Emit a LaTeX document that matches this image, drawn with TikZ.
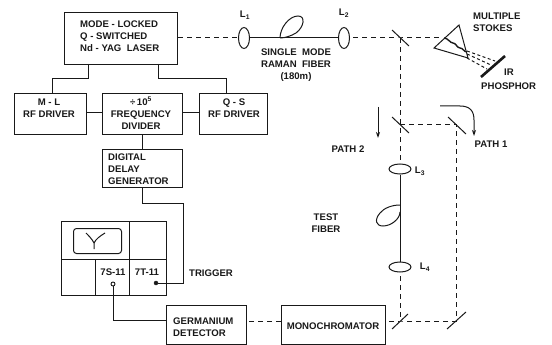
\documentclass[tikz,border=0pt]{standalone}
\usepackage{fontspec}
\setmainfont{Liberation Sans}
\usetikzlibrary{arrows.meta,shapes.geometric}
\tikzset{
  x=1pt,y=-1pt,
  line/.style={line width=1pt,black!90},
  beam/.style={line width=1pt,black!90,dash pattern=on 5pt off 4pt},
  mirror/.style={line width=1pt,black!90},
  lens/.style={draw=black!90,line width=1pt,ellipse,inner sep=0pt,fill=white},
  box/.style={draw=black!90,line width=1pt,inner sep=0pt,anchor=north west},
  lab/.style={font=\fontsize{9.6}{12}\selectfont\bfseries,text=black!90,inner sep=0pt,align=center},
  labl/.style={lab,align=left},
  dotted node/.style={circle,draw=black!90,line width=0.9pt,inner sep=0pt,minimum size=4pt},
}
\begin{document}
\begin{tikzpicture}
\useasboundingbox (0,0) rectangle (552,345);
% boxes
\node[box,minimum width=113pt,minimum height=52pt] (laser) at (64,12) {};
\node[box,minimum width=72pt,minimum height=41pt] (ml) at (14,93) {};
\node[box,minimum width=80pt,minimum height=41pt] (div) at (102,93) {};
\node[box,minimum width=68pt,minimum height=41pt] (qs) at (199,93) {};
\node[box,minimum width=80pt,minimum height=38pt] (delay) at (102,149) {};
\node[box,minimum width=105pt,minimum height=74pt] (scope) at (61,221) {};
\node[box,minimum width=80pt,minimum height=39pt] (ge) at (166,305) {};
\node[box,minimum width=104pt,minimum height=39pt] (mono) at (281,305) {};
\node[draw=black!90,line width=1pt,rounded corners=3pt,inner sep=0pt,minimum width=48pt,minimum height=25pt,anchor=north west] (screen) at (73,228) {};
% scope partitions and trace
\draw[line] (61,259) -- (166,259);
\draw[line] (129,221) -- (129,295);
\draw[line] (95,259) -- (95,295);
\draw[line] (86,233) .. controls (89,236) and (92,239) .. (94,243) -- (94,249);
\draw[line] (105,233) .. controls (100,236) and (96,239) .. (94,243);
% labels in boxes
\node[labl,anchor=west] at (80,36.5) {MODE - LOCKED\\Q - SWITCHED\\Nd - YAG\ \ LASER};
\node[lab] at (49,108.5) {M - L\\RF DRIVER};
\node[lab] at (141,113) {÷\,10$^{\mathbf{5}}$\\FREQUENCY\\DIVIDER};
\node[lab] at (234,108.5) {Q - S\\RF DRIVER};
\node[labl,anchor=west] at (108,169) {DIGITAL\\DELAY\\GENERATOR};
\node[labl,anchor=west] at (173,327) {GERMANIUM\\DETECTOR};
\node[lab] at (333,326) {MONOCHROMATOR};
\node[lab] (t75) at (113,272) {7S-11};
\node[lab] (t7t) at (147,272) {7T-11};
\node[lab] (trig) at (211,273) {TRIGGER};
% electrical connections
\coordinate (lm) at (88,64); \coordinate (lq) at (158,64);
\coordinate (mt) at (52,93); \coordinate (qt) at (226,93);
\draw[line] (lm) -- (88,79) -- (52,79) -- (mt);
\draw[line] (lq) -- (158,79) -- (226,79) -- (qt);
\draw[line] (ml.east |- 0,113) -- (div.west |- 0,113);
\draw[line] (div.east |- 0,113) -- (qs.west |- 0,113);
\draw[line] (142,134) -- (142,149);
\node[circle,fill=black!90,draw=black!90,inner sep=0pt,minimum size=4pt] (trd) at (156,283) {};
\node[dotted node,fill=white] (sd) at (113,284) {};
\coordinate (dd) at (142,187); \coordinate (gd) at (166,320);
\draw[line] (dd) -- (142,203) -- (183,203) -- (183,283) -- (trd);
\draw[line] (sd) -- (113,320) -- (gd);
% optical
\coordinate (m1) at (400,38); \coordinate (m2) at (400,124); \coordinate (m3) at (456,124);
\coordinate (m4) at (456,321); \coordinate (m5) at (400,321);
\coordinate (pin) at (442,38);
\coordinate (c1) at (244,38); \coordinate (c2) at (344,38);
\coordinate (c3) at (400,169); \coordinate (c4) at (400,267);
\draw[beam] (laser.east |- 0,38) -- (c1);
\draw[beam] (c2) -- (m1) -- (pin);
\draw[beam] (m1) -- (m2) -- (c3);
\draw[beam] (m2) -- (m3) -- (m4) -- (m5) -- (mono.east |- m5);
\draw[beam] (c4) -- (m5);
\draw[beam] (mono.west |- 0,321) -- (ge.east |- 0,321);
\node[lens,minimum width=11pt,minimum height=21pt] (L1) at (c1) {};
\node[lens,minimum width=11pt,minimum height=21pt] (L2) at (c2) {};
\node[lens,minimum width=22pt,minimum height=10pt] (L3) at (c3) {};
\node[lens,minimum width=22pt,minimum height=10pt] (L4) at (c4) {};
% fibers
\draw[line] (L1.east) -- (L2.west);
\draw[line] (280,38) .. controls (280,28) and (289,16) .. (298,16) .. controls (306,16) and (304,27) .. (296,33) .. controls (291,36) and (285,38) .. (280,38);
\draw[line] (L3.south) -- (L4.north);
\draw[line] (400,205) .. controls (392,205) and (384,208) .. (380,213) .. controls (374,220) and (376,226) .. (383,226) .. controls (391,226) and (400,219) .. (400,212);
% mirrors
\draw[mirror] (392,30) -- (409,46);
\draw[mirror] (392,117) -- (409,133);
\draw[mirror] (448,117) -- (466,134);
\draw[mirror] (392,329) -- (408,314);
\draw[mirror] (447,329) -- (466,312);
% prism
\draw[line] (459,25) -- (434,48) -- (468,58) -- cycle;
\draw[line,line width=1.4pt] (444,38) .. controls (448,38) and (450,43) .. (453,43) .. controls (456,43) and (457,48) .. (460,48) .. controls (463,48) and (464,52) .. (467,52);
\draw[line,line width=2.6pt] (481,77) -- (505,56);
\draw[line,dash pattern=on 3pt off 2.5pt] (467,51) -- (495,61);
\draw[line,dash pattern=on 3pt off 2.5pt] (467,54) -- (491,65);
\draw[line,dash pattern=on 3pt off 2.5pt] (467,58) -- (487,69);
% path arrows
\draw[line,-{Stealth[length=6pt,width=4pt]}] (378,107) -- (378,138);
\draw[line,-{Stealth[length=6pt,width=4pt]}] (440,106) -- (460,106) .. controls (470,106) and (474,111) .. (474,120) -- (474,136);
% labels
\node[lab] at (245,15) {L$_{\mathbf 1}$};
\node[lab] at (344,13) {L$_{\mathbf 2}$};
\node[lab] at (420,171) {L$_{\mathbf 3}$};
\node[lab] at (425,267) {L$_{\mathbf 4}$};
\node[lab] at (296,65) {SINGLE\ \ MODE\\RAMAN\ \ FIBER\\(180m)};
\node[labl,anchor=west] at (473,22.5) {MULTIPLE\\STOKES};
\node[labl,anchor=west] at (504,72) {IR};
\node[labl,anchor=west] at (481,86) {PHOSPHOR};
\node[lab] at (348,149) {PATH 2};
\node[lab] at (491,144) {PATH 1};
\node[lab] at (326,223) {TEST\\FIBER};
\end{tikzpicture}
\end{document}
